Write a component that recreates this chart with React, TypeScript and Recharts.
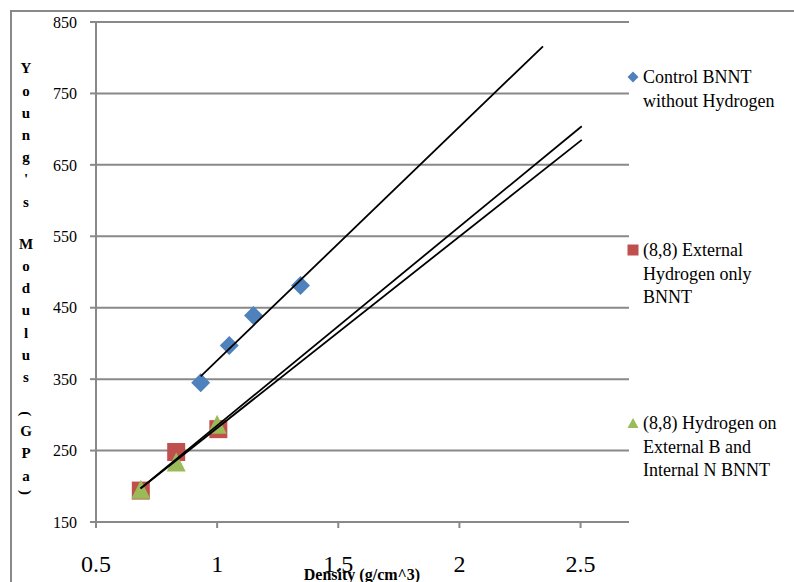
import React from 'react'
import {
  ScatterChart,
  Scatter,
  XAxis,
  YAxis,
  CartesianGrid,
} from 'recharts'

// values
const seriesNames = [
  'Control BNNT\nwithout Hydrogen',
  '(8,8) External\nHydrogen only\nBNNT',
  '(8,8) Hydrogen on\nExternal B and\nInternal N BNNT',
]
const seriesColors = ['#4F81BD', '#C0504D', '#9BBB59']

const controlX = [0.932, 1.05, 1.15, 1.344]
const controlY = [345, 397, 439, 481]
const externalX = [0.685, 0.831, 1.005]
const externalY = [194, 248, 280]
const extIntX = [0.685, 0.831, 1.0]
const extIntY = [196, 234, 287]

// trend line end points
const controlTrendX = [0.932, 2.345]
const controlTrendY = [354, 816]
const externalTrendX = [0.684, 2.505]
const externalTrendY = [197, 704]
const extIntTrendX = [0.684, 2.505]
const extIntTrendY = [197, 685]

const xTicks = [0.5, 1, 1.5, 2, 2.5]
const yTicks = [150, 250, 350, 450, 550, 650, 750, 850]
const yTitle = "Young's Modulus (GPa)"
const xTitle = 'Density (g/cm^3)'

const zip = (xs: number[], ys: number[]) => xs.map((x, i) => ({ x, y: ys[i] }))

const serif = '"Liberation Serif", "Times New Roman", serif'
const gray = '#898989'

const Diamond = (props: any) => {
  const { cx, cy, fill } = props
  const r = 9.5
  return <polygon points={`${cx},${cy - r} ${cx + r},${cy} ${cx},${cy + r} ${cx - r},${cy}`} fill={fill} />
}

const Square = (props: any) => {
  const { cx, cy, fill } = props
  return <rect x={cx - 9} y={cy - 9} width={18} height={18} fill={fill} />
}

const Triangle = (props: any) => {
  const { cx, cy, fill } = props
  const h = 9.5
  return <polygon points={`${cx},${cy - h} ${cx + h},${cy + h} ${cx - h},${cy + h}`} fill={fill} />
}

const Nothing = () => <g />

const XTick = (props: any) => {
  const { x, payload } = props
  return (
    <text x={x} y={572} textAnchor="middle" fontSize={24} fontFamily={serif} fill="#000">
      {payload.value}
    </text>
  )
}

function LegendMarker({ index }: { index: number }) {
  const c = seriesColors[index]
  return (
    <svg width={12} height={12} style={{ position: 'absolute', left: 0, top: 5 }}>
      {index === 0 && <polygon points="6,0.5 11.5,6 6,11.5 0.5,6" fill={c} />}
      {index === 1 && <rect x={0.5} y={0.5} width={11} height={11} fill={c} />}
      {index === 2 && <polygon points="6,1 11.5,11 0.5,11" fill={c} />}
    </svg>
  )
}

function ChartLegend() {
  const tops = [66, 239, 412]
  return (
    <>
      {seriesNames.map((name, i) => (
        <div
          key={name}
          style={{
            position: 'absolute',
            left: 627,
            top: tops[i],
            width: 167,
          }}
        >
          <LegendMarker index={i} />
          <div
            style={{
              marginLeft: 16,
              fontFamily: serif,
              fontSize: 18,
              lineHeight: '23.5px',
              whiteSpace: 'pre-line',
              color: '#000',
            }}
          >
            {name}
          </div>
        </div>
      ))}
    </>
  )
}

function Overlay() {
  // stacked vertical axis title
  const chars = yTitle.split('')
  let pos = 57
  const items = chars.map((ch, i) => {
    const h = ch === ' ' ? 20 : ch === '(' || ch === ')' ? 12 : 22.2
    const c = pos + h / 2
    pos += h
    if (ch === ' ') return null
    const rotated = ch === '(' || ch === ')'
    return (
      <text
        key={i}
        x={26}
        y={c}
        dy="0.35em"
        textAnchor="middle"
        fontSize={15}
        fontWeight="bold"
        fontFamily={serif}
        transform={rotated ? `rotate(90 26 ${c})` : undefined}
      >
        {ch}
      </text>
    )
  })
  return (
    <svg width={794} height={582} style={{ position: 'absolute', left: 0, top: 0, pointerEvents: 'none' }}>
      <rect x={11} y={11} width={820} height={620} fill="none" stroke={gray} strokeWidth={2} />
      {items}
      <text x={362} y={580} textAnchor="middle" fontSize={16} fontWeight="bold" fontFamily={serif}>
        {xTitle}
      </text>
    </svg>
  )
}

export default function App() {
  return (
    <div
      style={{
        position: 'fixed',
        left: 0,
        top: 0,
        width: 794,
        height: 582,
        overflow: 'hidden',
        background: '#fff',
      }}
    >
      <ScatterChart width={794} height={582} margin={{ top: 22, right: 165, bottom: 0, left: 0 }}>
        <CartesianGrid vertical={false} stroke={gray} strokeWidth={2} />
        <XAxis
          type="number"
          dataKey="x"
          domain={[0.5, 2.7]}
          ticks={xTicks}
          height={60}
          tickSize={6}
          axisLine={{ stroke: gray, strokeWidth: 2 }}
          tickLine={{ stroke: gray, strokeWidth: 2 }}
          tick={<XTick />}
          interval={0}
        />
        <YAxis
          type="number"
          dataKey="y"
          domain={[150, 850]}
          ticks={yTicks}
          width={96}
          tickSize={6}
          tickMargin={13}
          axisLine={{ stroke: gray, strokeWidth: 2 }}
          tickLine={{ stroke: gray, strokeWidth: 2 }}
          tick={{ fontSize: 16, fill: '#000', fontFamily: serif }}
          interval={0}
        />
        <Scatter data={zip(controlX, controlY)} fill={seriesColors[0]} shape={<Diamond />} isAnimationActive={false} />
        <Scatter data={zip(externalX, externalY)} fill={seriesColors[1]} shape={<Square />} isAnimationActive={false} />
        <Scatter data={zip(extIntX, extIntY)} fill={seriesColors[2]} shape={<Triangle />} isAnimationActive={false} />
        <Scatter
          data={zip(controlTrendX, controlTrendY)}
          line={{ stroke: '#000', strokeWidth: 1.8 }}
          shape={<Nothing />}
          isAnimationActive={false}
        />
        <Scatter
          data={zip(externalTrendX, externalTrendY)}
          line={{ stroke: '#000', strokeWidth: 1.8 }}
          shape={<Nothing />}
          isAnimationActive={false}
        />
        <Scatter
          data={zip(extIntTrendX, extIntTrendY)}
          line={{ stroke: '#000', strokeWidth: 1.8 }}
          shape={<Nothing />}
          isAnimationActive={false}
        />
      </ScatterChart>
      <ChartLegend />
      <Overlay />
    </div>
  )
}
